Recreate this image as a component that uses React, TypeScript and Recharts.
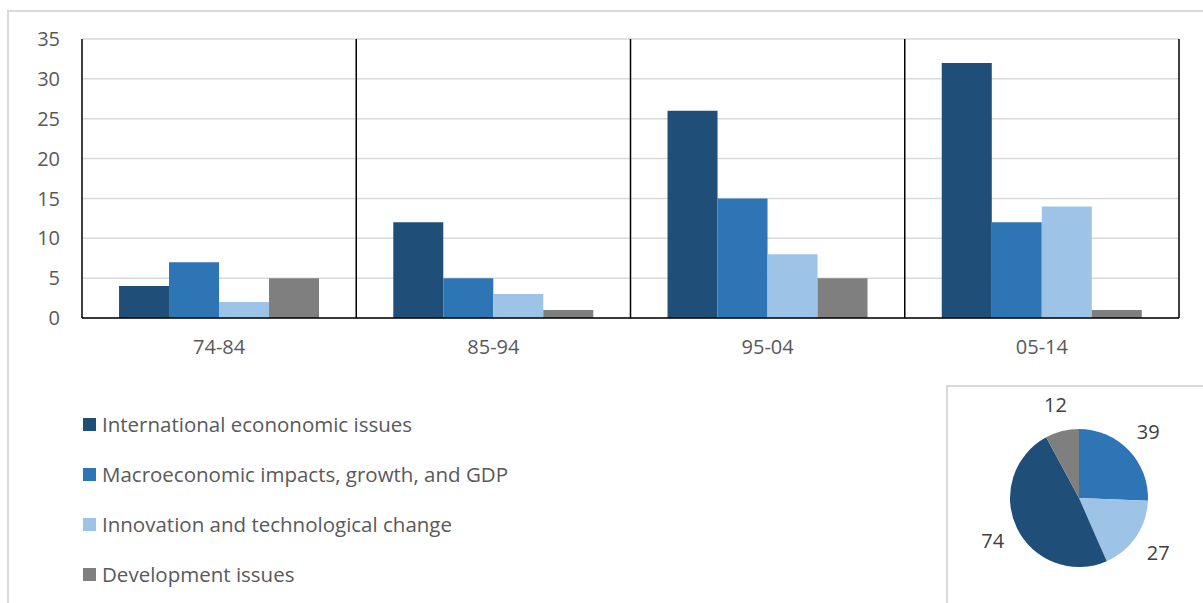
import { BarChart, Bar, XAxis, YAxis, CartesianGrid, PieChart, Pie, Cell } from "recharts";

const periods = ["74-84", "85-94", "95-04", "05-14"];
const international = [4, 12, 26, 32];
const macro = [7, 5, 15, 12];
const innovation = [2, 3, 8, 14];
const development = [5, 1, 5, 1];
const yTicks = [0, 5, 10, 15, 20, 25, 30, 35];

const seriesNames = [
  "International econonomic issues",
  "Macroeconomic impacts, growth, and GDP",
  "Innovation and technological change",
  "Development issues",
];
const seriesKeys = ["international", "macro", "innovation", "development"];
const seriesColors = ["#1F4E79", "#2E75B6", "#9DC3E6", "#7F7F7F"];

// pie totals, clockwise from 12 o'clock
const pieNames = ["Macroeconomic impacts, growth, and GDP", "Innovation and technological change", "International econonomic issues", "Development issues"];
const pieValues = [39, 27, 74, 12];
const pieColors = ["#2E75B6", "#9DC3E6", "#1F4E79", "#7F7F7F"];

const FONT = "'Open Sans', 'Noto Sans', sans-serif";
const AXIS_TEXT = "#595959";

const barData = periods.map((p, i) => ({
  period: p,
  international: international[i],
  macro: macro[i],
  innovation: innovation[i],
  development: development[i],
}));

const pieData = pieNames.map((n, i) => ({ name: n, value: pieValues[i] }));

const RADIAN = Math.PI / 180;

function PieLabel(props: any) {
  const { cx, cy, midAngle, outerRadius, value } = props;
  const r = outerRadius + 27;
  const x = cx + r * Math.cos(-midAngle * RADIAN);
  const y = cy + r * Math.sin(-midAngle * RADIAN);
  return (
    <text x={x} y={y} fill="#404040" fontSize={20} fontFamily={FONT} textAnchor="middle" dominantBaseline="central">
      {value}
    </text>
  );
}

export default function App() {
  return (
    <div style={{ position: "absolute", left: 0, top: 0, width: 1203, height: 603, background: "#fff", overflow: "hidden", fontFamily: FONT }}>
      {/* outer chart frame */}
      <div style={{ position: "absolute", left: 7, top: 10, width: 1210, height: 610, borderLeft: "2px solid #D9D9D9", borderTop: "2px solid #D9D9D9" }} />

      <div style={{ position: "absolute", left: 0, top: 0 }}>
        <BarChart
          width={1203}
          height={360}
          data={barData}
          margin={{ top: 39, right: 24, left: 22, bottom: 12 }}
          barCategoryGap="13.5%"
          barGap={0}
        >
          <CartesianGrid vertical={false} stroke="#D9D9D9" strokeWidth={1.5} />
          <CartesianGrid
            horizontal={false}
            stroke="#000"
            strokeWidth={1.5}
            verticalCoordinatesGenerator={({ offset }: any) =>
              [0, 1, 2, 3, 4].map((i) => offset.left + (offset.width * i) / 4)
            }
          />
          <XAxis
            dataKey="period"
            height={30}
            axisLine={{ stroke: "#000", strokeWidth: 1.5 }}
            tickLine={false}
            tickSize={0}
            tickMargin={22}
            tick={{ fill: AXIS_TEXT, fontSize: 20, fontFamily: FONT }}
          />
          <YAxis
            width={60}
            domain={[0, 35]}
            ticks={yTicks}
            axisLine={false}
            tickLine={false}
            tickSize={0}
            tickMargin={22}
            tick={{ fill: AXIS_TEXT, fontSize: 20, fontFamily: FONT }}
          />
          {seriesKeys.map((k, i) => (
            <Bar key={k} dataKey={k} name={seriesNames[i]} fill={seriesColors[i]} isAnimationActive={false} />
          ))}
        </BarChart>
      </div>

      {/* legend */}
      <div style={{ position: "absolute", left: 83, top: 410 }}>
        {seriesNames.map((n, i) => (
          <div key={n} style={{ position: "absolute", left: 0, top: i * 50, display: "flex", alignItems: "center", whiteSpace: "nowrap", height: 28 }}>
            <div style={{ width: 13, height: 13, background: seriesColors[i], marginRight: 6 }} />
            <span style={{ color: AXIS_TEXT, fontSize: 20.5 }}>{n}</span>
          </div>
        ))}
      </div>

      {/* pie box */}
      <div style={{ position: "absolute", left: 946, top: 385, width: 300, height: 300, borderLeft: "2px solid #D9D9D9", borderTop: "2px solid #D9D9D9" }} />
      <div style={{ position: "absolute", left: 959, top: 378 }}>
        <PieChart width={240} height={240} margin={{ top: 0, right: 0, bottom: 0, left: 0 }}>
          <Pie
            data={pieData}
            dataKey="value"
            cx={120}
            cy={120}
            outerRadius={69}
            startAngle={90}
            endAngle={-270}
            stroke="none"
            label={PieLabel}
            labelLine={false}
            isAnimationActive={false}
          >
            {pieData.map((d, i) => (
              <Cell key={d.name} fill={pieColors[i]} />
            ))}
          </Pie>
        </PieChart>
      </div>
    </div>
  );
}
